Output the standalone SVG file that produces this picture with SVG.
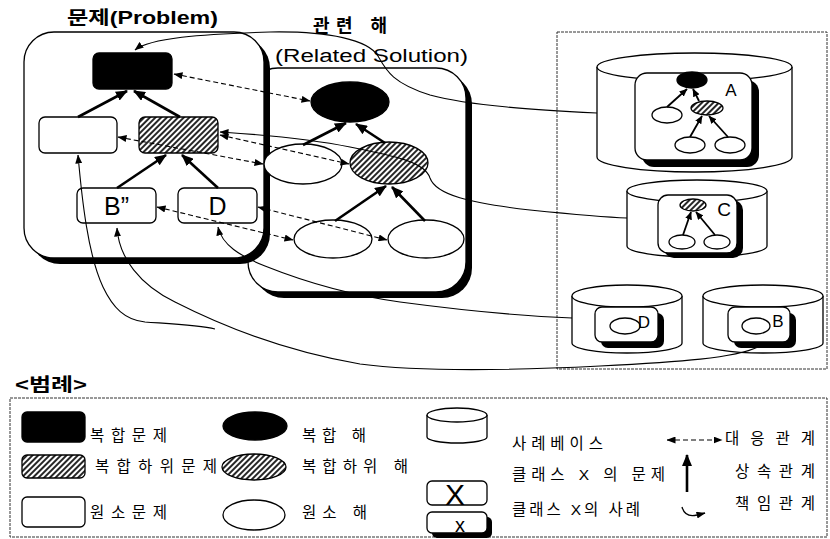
<svg xmlns="http://www.w3.org/2000/svg" width="830" height="539" viewBox="0 0 830 539">
<style>
text{font-family:"Liberation Sans","Noto Sans CJK KR",sans-serif;fill:#000}
.title{font-size:18px;font-weight:bold}
.lg{font-size:15.5px}
.ln{stroke:#000;stroke-width:1.3;fill:#fff}
.blk{fill:#000;stroke:#000;stroke-width:1.3}
.hat{fill:url(#hatch);stroke:#000;stroke-width:1.3}
.sh{fill:#000}
.inh{stroke:#000;stroke-width:2.6;fill:none;marker-end:url(#ah)}
.inhs{stroke:#000;stroke-width:1.8;fill:none;marker-end:url(#ahs)}
.cor{stroke:#000;stroke-width:1.1;stroke-dasharray:5 3;fill:none;marker-start:url(#ad);marker-end:url(#ad)}
.rsp{stroke:#000;stroke-width:1.1;fill:none;marker-start:url(#ad)}
.frame{fill:none;stroke:#333;stroke-width:1;stroke-dasharray:3 1}
</style>
<defs>
<pattern id="hatch" patternUnits="userSpaceOnUse" width="4" height="4" patternTransform="rotate(45)">
<rect width="4" height="4" fill="#fff"/>
<line x1="1" y1="0" x2="1" y2="4" stroke="#000" stroke-width="1.7"/>
</pattern>
<marker id="ah" viewBox="0 0 12 10" refX="11" refY="5" markerWidth="12" markerHeight="10" markerUnits="userSpaceOnUse" orient="auto"><path d="M0,0L12,5L0,10z"/></marker>
<marker id="ahs" viewBox="0 0 8 7" refX="7.5" refY="3.5" markerWidth="8" markerHeight="7" markerUnits="userSpaceOnUse" orient="auto"><path d="M0,0L8,3.5L0,7z"/></marker>
<marker id="ad" viewBox="0 0 9 7" refX="8.5" refY="3.5" markerWidth="9" markerHeight="7" markerUnits="userSpaceOnUse" orient="auto-start-reverse"><path d="M0,0L9,3.5L0,7z"/></marker>
</defs>

<!-- Titles -->
<text class="title" x="67" y="23.5" textLength="151" lengthAdjust="spacingAndGlyphs">문제(Problem)</text>
<text class="title" x="313" y="31.5" font-size="17" textLength="74">관련 해</text>
<text x="275" y="61.5" font-size="18" textLength="193" lengthAdjust="spacingAndGlyphs">(Related Solution)</text>

<!-- Related solution container -->
<g id="related-solution">
<rect class="sh" x="254" y="74" width="218" height="224" rx="30"/>
<rect class="ln" x="248" y="68" width="218" height="224" rx="30"/>
</g>
<!-- Problem container -->
<g id="problem">
<rect class="sh" x="30" y="38" width="240" height="226" rx="30"/>
<rect class="ln" x="24" y="32" width="240" height="226" rx="30"/>
</g>

<!-- Problem nodes -->
<g id="p-composite"><rect class="blk" x="93" y="53" width="79" height="36" rx="6"/></g>
<g id="p-element"><rect class="ln" x="39" y="117" width="78" height="36" rx="6"/></g>
<g id="p-subcomposite"><rect class="hat" x="139" y="117" width="79" height="36" rx="6"/></g>
<g id="p-B"><rect class="ln" x="77" y="188" width="79" height="35" rx="6"/><text x="116.5" y="215" font-size="25" text-anchor="middle">B”</text></g>
<g id="p-D"><rect class="ln" x="178" y="188" width="79" height="35" rx="6"/><text x="217.5" y="215" font-size="25" text-anchor="middle">D</text></g>

<!-- Solution nodes -->
<g id="s-composite"><ellipse class="blk" cx="350" cy="102" rx="39" ry="20"/></g>
<g id="s-element"><ellipse class="ln" cx="303" cy="164" rx="39" ry="20"/></g>
<g id="s-subcomposite"><ellipse class="hat" cx="389" cy="163" rx="39" ry="21"/></g>
<g id="s-leaf1"><ellipse class="ln" cx="333" cy="239" rx="39" ry="19"/></g>
<g id="s-leaf2"><ellipse class="ln" cx="426" cy="239" rx="38" ry="19"/></g>

<!-- Case base container -->
<g id="case-bases">
<rect class="frame" x="557" y="32" width="270" height="337"/>
</g>

<!-- Case base A -->
<g id="cb-A">
<path class="ln" d="M597,67V157A97.5,15 0 0 0 792,157V67"/>
<ellipse class="ln" cx="694.5" cy="67" rx="97.5" ry="14"/>
<rect class="sh" x="642" y="80" width="117" height="87" rx="12"/>
<rect class="ln" x="635" y="73" width="117" height="87" rx="12"/>
<ellipse class="blk" cx="692" cy="80" rx="15" ry="8"/>
<ellipse class="ln" cx="667" cy="115" rx="15" ry="8"/>
<ellipse class="hat" cx="707" cy="108" rx="16" ry="7"/>
<ellipse class="ln" cx="690" cy="145" rx="15" ry="8"/>
<ellipse class="ln" cx="730" cy="145" rx="15" ry="8"/>
<path class="inhs" d="M667,107L687,89"/>
<path class="inhs" d="M699,101L693,89"/>
<path class="inhs" d="M690,137L702,116"/>
<path class="inhs" d="M728,137L709,116"/>
<text x="731" y="96" font-size="17" text-anchor="middle">A</text>
</g>

<!-- Case base C -->
<g id="cb-C">
<path class="ln" d="M627,191V246A70,11 0 0 0 767,246V191"/>
<ellipse class="ln" cx="697" cy="191" rx="70" ry="11"/>
<rect class="sh" x="664" y="200" width="79" height="58" rx="10"/>
<rect class="ln" x="658" y="195" width="79" height="58" rx="10"/>
<ellipse class="hat" cx="693" cy="205" rx="13" ry="6"/>
<ellipse class="ln" cx="682" cy="242" rx="13" ry="7"/>
<ellipse class="ln" cx="717" cy="242" rx="13" ry="7"/>
<path class="inhs" d="M683,235L691,212"/>
<path class="inhs" d="M715,235L696,212"/>
<text x="724" y="216" font-size="19" text-anchor="middle">C</text>
</g>

<!-- Case base D -->
<g id="cb-D">
<path class="ln" d="M572,296V343A55,10 0 0 0 682,343V296"/>
<ellipse class="ln" cx="627" cy="296" rx="55" ry="11"/>
<rect class="sh" x="601" y="313" width="63" height="35" rx="7"/>
<rect class="ln" x="595" y="307" width="63" height="35" rx="7"/>
<ellipse class="ln" cx="625" cy="326" rx="15" ry="8"/>
<text x="644" y="328" font-size="17" text-anchor="middle">D</text>
</g>

<!-- Case base B -->
<g id="cb-B">
<path class="ln" d="M703,296V343A60,10 0 0 0 823,343V296"/>
<ellipse class="ln" cx="763" cy="296" rx="60" ry="11"/>
<rect class="sh" x="734" y="313" width="62" height="35" rx="7"/>
<rect class="ln" x="728" y="307" width="62" height="35" rx="7"/>
<ellipse class="ln" cx="756" cy="326" rx="14" ry="8"/>
<text x="778" y="327" font-size="17" text-anchor="middle">B</text>
</g>

<!-- Connectors -->
<g id="connectors">
<path class="inh" d="M78,117L127,91"/>
<path class="inh" d="M180,117L134,91"/>
<path class="inh" d="M117,188L166,155"/>
<path class="inh" d="M218,188L182,155"/>
<path class="inh" d="M303,145L346,123"/>
<path class="inh" d="M385,143L356,124"/>
<path class="inh" d="M335,221L386,186"/>
<path class="inh" d="M425,221L392,187"/>
<path class="cor" d="M174,74L310,101"/>
<path class="cor" d="M220,135L349,164"/>
<path class="cor" d="M118,137L263,164"/>
<path class="cor" d="M157,207L293,240"/>
<path class="cor" d="M258,207L387,240"/>
<path class="rsp" d="M135,50C150,38 200,34 270,32C330,31 368,40 378,56C386,70 392,83 430,95C470,106 540,110 597,113"/>
<path class="rsp" d="M220,132C250,134 300,137 350,147C395,156 425,162 430,178C436,195 470,203 530,210C570,214 600,217 627,218"/>
<path class="rsp" d="M218,227C222,245 240,256 265,266C300,280 350,295 400,302C460,310 520,316 572,318"/>
<path class="rsp" d="M117,228C119,258 140,285 175,302C230,330 290,352 360,364C420,372 520,370 600,366C680,362 735,358 758,347"/>
<path class="rsp" d="M78,155C82,200 88,255 103,287C113,308 125,320 145,322C175,324 200,325 215,329"/>
</g>

<!-- Legend -->
<text class="title" x="15" y="391" font-size="19" textLength="72" lengthAdjust="spacingAndGlyphs">&lt;범례&gt;</text>
<g id="legend">
<rect class="frame" x="10" y="398" width="817" height="139"/>
<rect class="blk" x="22" y="412" width="63" height="30" rx="5"/>
<text class="lg" x="90" y="441" textLength="77">복합문제</text>
<rect class="hat" x="22" y="455" width="63" height="23" rx="5"/>
<text class="lg" x="95" y="472" textLength="122">복합하위문제</text>
<rect class="ln" x="22" y="497" width="63" height="30" rx="5"/>
<text class="lg" x="90" y="518" textLength="77">원소문제</text>
<ellipse class="blk" cx="255" cy="426" rx="32" ry="14"/>
<text class="lg" x="302" y="441" textLength="64">복합 해</text>
<ellipse class="hat" cx="254" cy="467" rx="32" ry="13"/>
<text class="lg" x="302" y="472" textLength="106">복합하위 해</text>
<ellipse class="ln" cx="254" cy="515" rx="31" ry="15"/>
<text class="lg" x="302" y="518" textLength="65">원소 해</text>

<path class="ln" d="M427,415V437A30,6 0 0 0 487,437V415"/>
<ellipse class="ln" cx="457" cy="415" rx="30" ry="7"/>
<text class="lg" x="512" y="449" textLength="91">사례베이스</text>
<rect class="ln" x="427" y="481" width="60" height="24" rx="5"/>
<text x="455" y="505" font-size="30" text-anchor="middle">X</text>
<text class="lg" x="512" y="480" textLength="153">클래스 X 의 문제</text>
<rect class="sh" x="432" y="517" width="60" height="21" rx="5"/>
<rect class="ln" x="427" y="512" width="60" height="21" rx="5"/>
<text x="460" y="532" font-size="20" text-anchor="middle">x</text>
<text class="lg" x="512" y="515" textLength="128">클래스 X의 사례</text>

<path class="cor" d="M667,440L722,440"/>
<text class="lg" x="725" y="444" textLength="90">대응관계</text>
<path class="inh" d="M687,492L687,455"/>
<text class="lg" x="735" y="477" textLength="80">상속관계</text>
<path d="M682,507C684,514 689,517 697,515L705,513" stroke="#000" stroke-width="1.3" fill="none" marker-end="url(#ad)"/>
<text class="lg" x="735" y="509" textLength="80">책임관계</text>
</g>
</svg>
